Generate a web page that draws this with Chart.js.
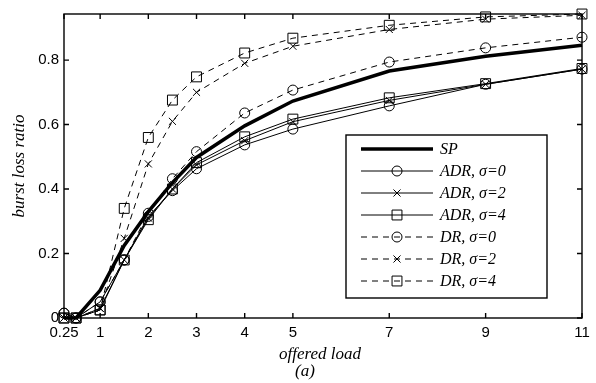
<!DOCTYPE html>
<html>
<head>
<meta charset="utf-8">
<script src="https://cdn.jsdelivr.net/npm/chart.js@4/dist/chart.umd.min.js"></script>
<style>
    html, body { margin: 0; padding: 0; background: #fff; }
    canvas { display: block; }
</style>
</head>
<body>
<canvas id="myChart" width="596" height="383"></canvas>
<script>
/* global Chart */

// offered load values where every curve was sampled
const LOADS  = [0.25, 0.5, 1, 1.5, 2, 2.5, 3, 4, 5, 7, 9, 11];

// burst loss ratio per routing scheme
const SP     = [0,     0, 0.086, 0.225, 0.330, 0.420, 0.498, 0.596, 0.673, 0.766, 0.812, 0.846];
const ADR_S0 = [0.015, 0, 0.050, 0.180, 0.315, 0.395, 0.463, 0.537, 0.586, 0.658, 0.725, 0.772];
const ADR_S2 = [0,     0, 0.030, 0.180, 0.310, 0.400, 0.475, 0.550, 0.609, 0.675, 0.725, 0.772];
const ADR_S4 = [0,     0, 0.025, 0.180, 0.305, 0.400, 0.482, 0.562, 0.617, 0.683, 0.727, 0.774];
const DR_S0  = [0.015, 0, 0.050, 0.180, 0.325, 0.432, 0.516, 0.636, 0.707, 0.794, 0.838, 0.871];
const DR_S2  = [0,     0, 0.030, 0.247, 0.478, 0.610, 0.700, 0.790, 0.843, 0.895, 0.927, 0.939];
const DR_S4  = [0,     0, 0.025, 0.340, 0.560, 0.676, 0.748, 0.822, 0.868, 0.908, 0.934, 0.943];

const LABELS = ['SP', 'ADR, σ=0', 'ADR, σ=2', 'ADR, σ=4', 'DR, σ=0', 'DR, σ=2', 'DR, σ=4'];

const X_TICKS = [0.25, 1, 2, 3, 4, 5, 7, 9, 11];
const X_TICK_LABELS = ['0.25', '1', '2', '3', '4', '5', '7', '9', '11'];
const Y_TICKS = [0, 0.2, 0.4, 0.6, 0.8];
const Y_TICK_LABELS = ['0', '0.2', '0.4', '0.6', '0.8'];

const X_TITLE = 'offered load';
const Y_TITLE = 'burst loss ratio';
const CAPTION = '(a)';

const SERIF_ITALIC = 'italic 17px "Liberation Serif", "Times New Roman", serif';

const points = ys => LOADS.map((x, i) => ({ x, y: ys[i] }));

function series(label, ys, extra) {
    return {
        label,
        data: points(ys),
        borderColor: '#000',
        backgroundColor: '#000',
        borderWidth: 1,
        pointBorderColor: '#000',
        pointBackgroundColor: 'rgba(0,0,0,0)',
        pointBorderWidth: 1,
        pointRadius: 0,
        tension: 0,
        clip: false,
        ...extra
    };
}

const DASH = [6, 5];

const datasets = [
    series(LABELS[0], SP,     { borderWidth: 3.5 }),
    series(LABELS[1], ADR_S0, { pointStyle: 'circle',   pointRadius: 5 }),
    series(LABELS[2], ADR_S2, { pointStyle: 'crossRot', pointRadius: 5 }),
    series(LABELS[3], ADR_S4, { pointStyle: 'rect',     pointRadius: 7 }),
    series(LABELS[4], DR_S0,  { pointStyle: 'circle',   pointRadius: 5, borderDash: DASH }),
    series(LABELS[5], DR_S2,  { pointStyle: 'crossRot', pointRadius: 5, borderDash: DASH }),
    series(LABELS[6], DR_S4,  { pointStyle: 'rect',     pointRadius: 7, borderDash: DASH }),
];

// box around the plot with inward ticks on all four sides
const framePlugin = {
    id: 'frame',
    beforeDatasetsDraw(chart) {
        const { ctx, chartArea: { left, right, top, bottom }, scales: { x, y } } = chart;
        const len = 5;
        ctx.save();
        ctx.strokeStyle = '#000';
        ctx.lineWidth = 1.4;
        ctx.strokeRect(left, top, right - left, bottom - top);
        ctx.beginPath();
        x.ticks.forEach(t => {
            const px = x.getPixelForValue(t.value);
            ctx.moveTo(px, bottom); ctx.lineTo(px, bottom - len);
            ctx.moveTo(px, top);    ctx.lineTo(px, top + len);
        });
        y.ticks.forEach(t => {
            const py = y.getPixelForValue(t.value);
            ctx.moveTo(left, py);  ctx.lineTo(left + len, py);
            ctx.moveTo(right, py); ctx.lineTo(right - len, py);
        });
        ctx.stroke();
        ctx.restore();
    }
};

// axis titles and the panel caption
const titlesPlugin = {
    id: 'titles',
    afterDraw(chart) {
        const { ctx, chartArea: { left, right, top, bottom } } = chart;
        ctx.save();
        ctx.fillStyle = '#000';
        ctx.font = SERIF_ITALIC;
        ctx.textAlign = 'center';
        ctx.textBaseline = 'middle';
        ctx.fillText(X_TITLE, (left + right) / 2 - 3, 355);
        ctx.fillText(CAPTION, (left + right) / 2 - 18, 372);
        ctx.translate(20, (top + bottom) / 2);
        ctx.rotate(-Math.PI / 2);
        ctx.fillText(Y_TITLE, 0, 0);
        ctx.restore();
    }
};

// boxed legend: line sample with marker, then italic label
const legendBoxPlugin = {
    id: 'legendBox',
    afterDraw(chart) {
        const { ctx } = chart;
        const box = { x: 346, y: 135, w: 201, h: 163 };
        const row0 = 149, step = 22;
        const x0 = 361, x1 = 433, xm = 397, xt = 440;

        ctx.save();
        ctx.fillStyle = '#fff';
        ctx.fillRect(box.x, box.y, box.w, box.h);
        ctx.strokeStyle = '#000';
        ctx.lineWidth = 1.4;
        ctx.strokeRect(box.x, box.y, box.w, box.h);

        chart.data.datasets.forEach((ds, i) => {
            const yy = row0 + i * step;
            ctx.save();
            ctx.strokeStyle = ds.borderColor;
            ctx.lineWidth = ds.borderWidth;
            ctx.setLineDash(ds.borderDash || []);
            ctx.beginPath();
            ctx.moveTo(x0, yy);
            ctx.lineTo(x1, yy);
            ctx.stroke();
            ctx.restore();

            if (ds.pointRadius > 0) {
                ctx.save();
                ctx.strokeStyle = ds.pointBorderColor;
                ctx.fillStyle = ds.pointBackgroundColor;
                ctx.lineWidth = ds.pointBorderWidth;
                Chart.helpers.drawPoint(ctx, {
                    pointStyle: ds.pointStyle,
                    radius: ds.pointRadius,
                    rotation: 0,
                    borderWidth: ds.pointBorderWidth
                }, xm, yy);
                ctx.restore();
            }

            ctx.fillStyle = '#000';
            ctx.font = 'italic 16px "Liberation Serif", "Times New Roman", serif';
            ctx.textAlign = 'left';
            ctx.textBaseline = 'middle';
            ctx.fillText(ds.label, xt, yy + 1);
        });
        ctx.restore();
    }
};

Chart.defaults.font.family = '"Liberation Sans", Arial, sans-serif';
Chart.defaults.font.size = 15;
Chart.defaults.color = '#000';

new Chart(document.getElementById('myChart'), {
    type: 'line',
    data: { datasets },
    options: {
        responsive: false,
        animation: false,
        events: [],
        layout: { padding: { top: 13, right: 14, left: 0, bottom: 0 } },
        plugins: {
            legend: { display: false },
            tooltip: { enabled: false }
        },
        scales: {
            x: {
                type: 'linear',
                min: LOADS[0],
                max: LOADS[LOADS.length - 1],
                grid: { display: false, drawTicks: false },
                border: { display: false },
                afterBuildTicks: s => { s.ticks = X_TICKS.map(value => ({ value })); },
                afterFit: s => { s.height = 65; },
                ticks: {
                    autoSkip: false,
                    maxRotation: 0,
                    padding: 6,
                    callback: v => X_TICK_LABELS[X_TICKS.indexOf(v)]
                }
            },
            y: {
                type: 'linear',
                min: 0,
                max: 0.943,
                grid: { display: false, drawTicks: false },
                border: { display: false },
                afterBuildTicks: s => { s.ticks = Y_TICKS.map(value => ({ value })); },
                afterFit: s => { s.width = 64; },
                ticks: {
                    padding: 5,
                    callback: v => Y_TICK_LABELS[Y_TICKS.indexOf(v)]
                }
            }
        }
    },
    plugins: [framePlugin, titlesPlugin, legendBoxPlugin]
});
</script>
</body>
</html>
